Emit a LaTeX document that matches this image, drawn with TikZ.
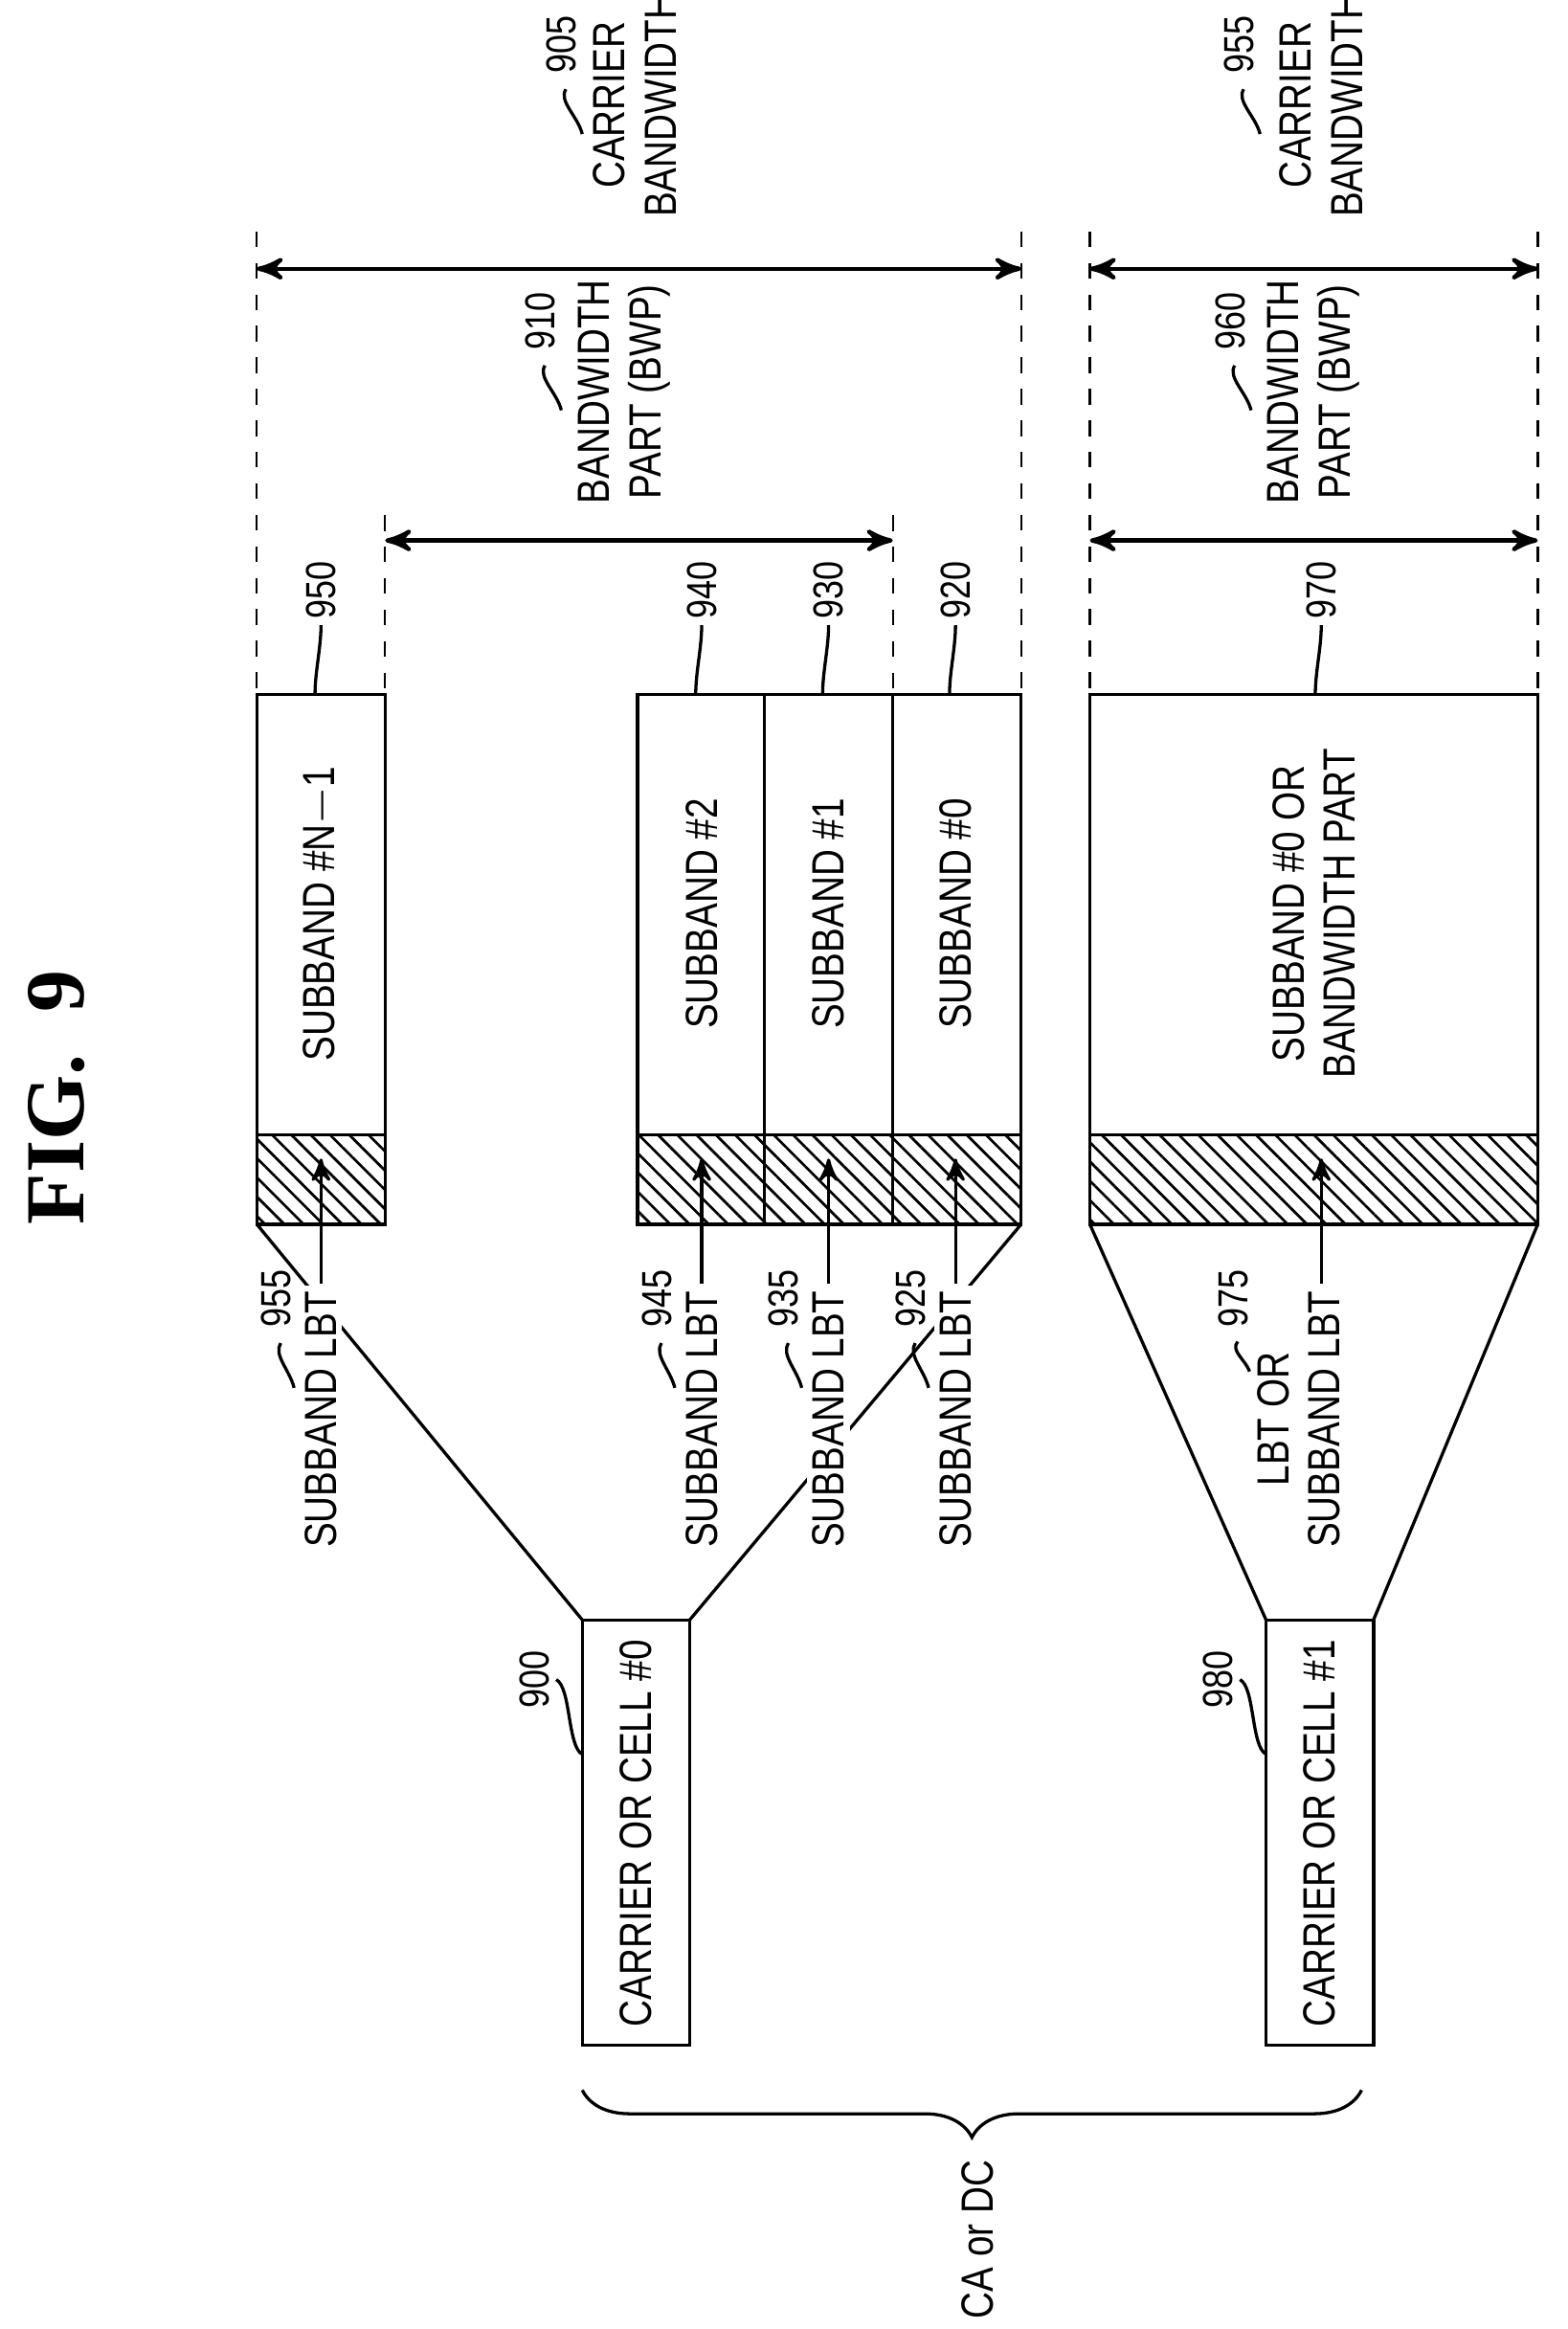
\documentclass[tikz,border=0pt]{standalone}
\usepackage{fontspec}
\setmainfont{Liberation Sans}[FakeStretch=0.82]
\newfontfamily\figfont{Liberation Serif}
\usepackage{tikz}
\usetikzlibrary{arrows,calc,positioning,patterns.meta,decorations.pathreplacing}

\begin{document}
\begin{tikzpicture}[x=0.1mm,y=-0.1mm,>=stealth',semithick,
  lbl/.style={rotate=90,font=\fontsize{8.6}{9.8}\selectfont,inner sep=1pt,align=center},
  num/.style={rotate=90,font=\fontsize{8}{9}\selectfont,inner sep=1pt},
  hatch/.style={pattern={Lines[angle=-45,distance=2.6pt,line width=0.5pt]}},
  dim/.style={<->,thick,shorten >=0pt},
  guide/.style={dashed,thin}]
\useasboundingbox (0,0) rectangle (1050,1560);
\node[rotate=90,font=\bfseries\figfont\fontsize{16}{18}\selectfont] (fig) at (38,735) {FIG.~~9};

% blocks
\foreach \xa/\xb in {172/258,427/512,512/598,598/684,730/1030}{
  \fill[hatch] (\xa,760) rectangle (\xb,820);
  \draw (\xa,465) rectangle (\xb,820);
  \draw (\xa,760) -- (\xb,760);
}
\node[lbl] (t950) at (215,612) {SUBBAND \#N$-$1};
\node[lbl] (t940) at (470,612) {SUBBAND \#2};
\node[lbl] (t930) at (555,612) {SUBBAND \#1};
\node[lbl] (t920) at (640,612) {SUBBAND \#0};
\node[lbl] (t970) at (880,612) {SUBBAND \#0 OR\\BANDWIDTH PART};

% guides
\foreach \x/\y in {172/155,684/155,258/345,598/345,730/155,1030/155}
  \draw[guide] (\x,\y) -- (\x,465);

% dimension arrows
\coordinate (c905a) at (172,180); \coordinate (c905b) at (684,180);
\coordinate (c910a) at (258,362); \coordinate (c910b) at (598,362);
\coordinate (c955a) at (730,180); \coordinate (c955b) at (1030,180);
\coordinate (c960a) at (730,362); \coordinate (c960b) at (1030,362);
\draw[dim] (c905a) -- (c905b);
\draw[dim] (c910a) -- (c910b);
\draw[dim] (c955a) -- (c955b);
\draw[dim] (c960a) -- (c960b);

\node[lbl,anchor=west] (cb1) at (425,150) {CARRIER\\BANDWIDTH};
\node[lbl,anchor=west] (bwp1) at (418,342) {BANDWIDTH\\PART (BWP)};
\node[lbl,anchor=west] (cb2) at (885,150) {CARRIER\\BANDWIDTH};
\node[lbl,anchor=west] (bwp2) at (880,342) {BANDWIDTH\\PART (BWP)};
\node[num] (n905) at (376,30) {905};
\node[num] (n910) at (362,215) {910};
\node[num] (n955b) at (830,30) {955};
\node[num] (n960) at (824,215) {960};
\foreach \n in {n905,n910,n955b,n960}
  \draw (\n.west) ++(3,6) .. controls +(-5,8) and +(-3,-12) .. +(11,30);

% box references
\foreach \n/\x in {950/215,940/470,930/555,920/640,970/885}{
  \node[num] (n\n) at (\x,395) {\n};
  \draw (n\n.west) .. controls +(0,15) and +(0,-15) .. (\x-4,465);
}

% carriers
\draw (390,1085) rectangle (462,1370);
\node[lbl] (cell0) at (426,1228) {CARRIER OR CELL \#0};
\draw (848,1085) rectangle (920,1370);
\node[lbl] (cell1) at (884,1228) {CARRIER OR CELL \#1};
\draw (390,1085) -- (172,820);
\draw (462,1085) -- (684,820);
\draw (848,1085) -- (730,820);
\draw (920,1085) -- (1030,820);
\node[num] (n900) at (358,1125) {900};
\draw (n900.south) .. controls +(10,5) and +(-10,-5) .. (390,1175);
\node[num] (n980) at (816,1125) {980};
\draw (n980.south) .. controls +(10,5) and +(-10,-5) .. (848,1175);

% LBT labels
\foreach \x/\n in {215/955,470/945,555/935,640/925}{
  \node[lbl,anchor=east,fill=white] (lbt\n) at (\x,860) {SUBBAND LBT};
  \draw[->] (lbt\n.east) -- (\x,776);
  \node[num,anchor=east] (nl\n) at (\x-30,846) {\n};
  \draw (nl\n.west) ++(3,6) .. controls +(-5,8) and +(-3,-12) .. +(9,30);
}
\node[lbl,anchor=east,fill=white] (lbt975) at (870,860) {LBT OR\\SUBBAND LBT};
\draw[->] (885,860) -- (885,776);
\node[num,anchor=east] (nl975) at (826,846) {975};
\draw (nl975.west) ++(3,5) .. controls +(-5,6) and +(-3,-8) .. +(8,20);

% brace
\draw[decorate,decoration={brace,amplitude=9pt,mirror}] (390,1400) -- (912,1400);
\node[lbl] (cadc) at (655,1500) {CA or DC};
\end{tikzpicture}
\end{document}
